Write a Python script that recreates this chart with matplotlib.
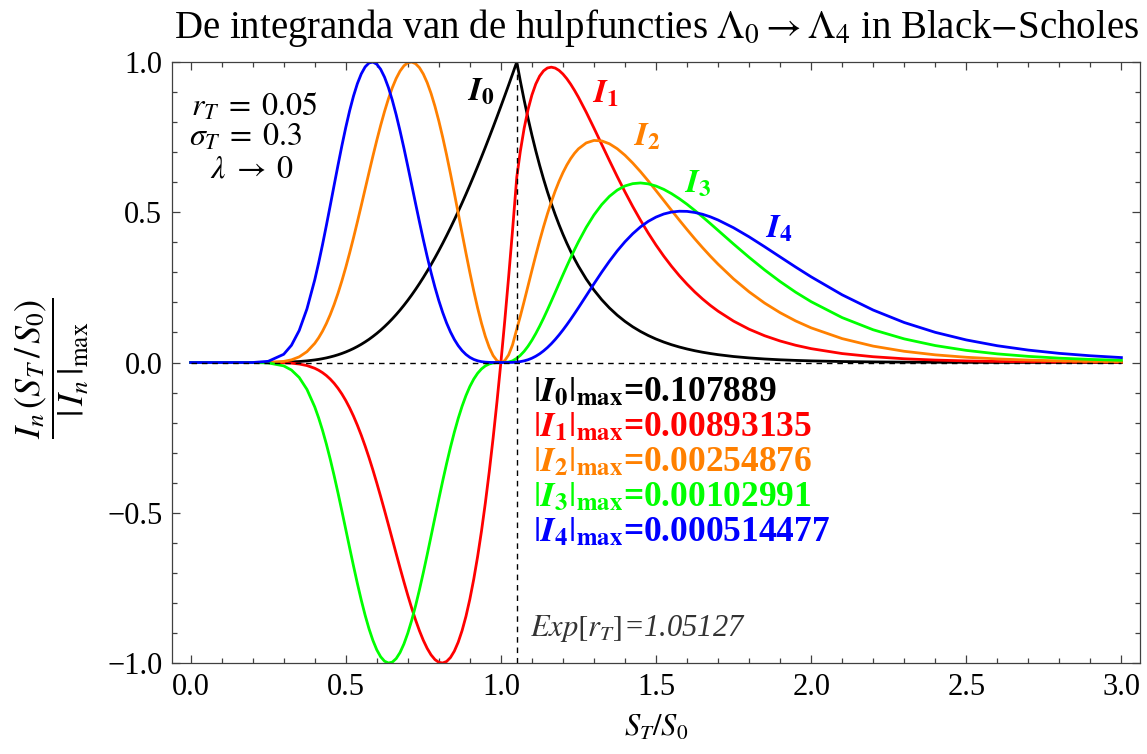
import numpy as np
import matplotlib
matplotlib.use("Agg")
import matplotlib.pyplot as plt
from matplotlib.ticker import MultipleLocator, FuncFormatter

plt.rcParams['font.family'] = ['Liberation Serif', 'DejaVu Serif']
plt.rcParams['mathtext.fontset'] = 'stix'

# S_T/S_0 grid (fijner rond de pieken)
x = [0.0, 0.1, 0.2, 0.25, 0.3, 0.325, 0.35, 0.375, 0.4,
     0.4125, 0.425, 0.4375, 0.45, 0.4625, 0.475, 0.4875, 0.5,
     0.5125, 0.525, 0.5375, 0.55, 0.5625, 0.575, 0.5875, 0.6,
     0.6125, 0.625, 0.6375, 0.65, 0.6625, 0.675, 0.6875, 0.7,
     0.7125, 0.725, 0.7375, 0.75, 0.7625, 0.775, 0.7875, 0.8,
     0.8125, 0.825, 0.8375, 0.85, 0.8625, 0.875, 0.8875, 0.9,
     0.9125, 0.925, 0.9375, 0.95, 0.9625, 0.975, 0.9875, 1.0,
     1.0125, 1.025, 1.0375, 1.05127, 1.0625, 1.075, 1.0875, 1.1,
     1.1125, 1.125, 1.1375, 1.15, 1.1625, 1.175, 1.1875, 1.2,
     1.2125, 1.225, 1.2375, 1.25, 1.275, 1.3, 1.325, 1.35,
     1.375, 1.4, 1.425, 1.45, 1.475, 1.5, 1.525, 1.55,
     1.575, 1.6, 1.625, 1.65, 1.675, 1.7, 1.75, 1.8,
     1.85, 1.9, 1.95, 2.0, 2.1, 2.2, 2.3, 2.4,
     2.5, 2.6, 2.7, 2.8, 2.9, 3.0]

# genormeerde integranda I_n / |I_n|max
I0 = [0.0, 0.0, 0.0, 0.0002, 0.0010, 0.0019, 0.0033, 0.0054, 0.0085,
      0.0104, 0.0127, 0.0153, 0.0184, 0.0218, 0.0257, 0.0301, 0.0350,
      0.0405, 0.0465, 0.0532, 0.0605, 0.0685, 0.0771, 0.0866, 0.0967,
      0.1076, 0.1194, 0.1319, 0.1452, 0.1594, 0.1744, 0.1903, 0.2070,
      0.2246, 0.2431, 0.2625, 0.2827, 0.3038, 0.3257, 0.3485, 0.3721,
      0.3966, 0.4219, 0.4480, 0.4749, 0.5026, 0.5311, 0.5602, 0.5901,
      0.6207, 0.6520, 0.6839, 0.7164, 0.7496, 0.7833, 0.8176, 0.8524,
      0.8877, 0.9234, 0.9596, 1.0, 0.9379, 0.8732, 0.8129, 0.7568,
      0.7045, 0.6558, 0.6105, 0.5683, 0.5290, 0.4924, 0.4584, 0.4267,
      0.3972, 0.3698, 0.3443, 0.3205, 0.2779, 0.2410, 0.2090, 0.1814,
      0.1575, 0.1368, 0.1188, 0.1033, 0.0898, 0.0781, 0.0680, 0.0592,
      0.0516, 0.0450, 0.0392, 0.0342, 0.0299, 0.0261, 0.0199, 0.0153,
      0.0117, 0.0090, 0.0070, 0.0054, 0.0032, 0.0020, 0.0012, 0.0007,
      0.0005, 0.0003, 0.0002, 0.0001, 0.0001, 0.0]
I1 = [0.0, 0.0, 0.0, 0.0, -0.0008, -0.0022, -0.0050, -0.0102, -0.0192,
      -0.0257, -0.0337, -0.0434, -0.0552, -0.0692, -0.0857, -0.1047, -0.1264,
      -0.1510, -0.1784, -0.2088, -0.2420, -0.2780, -0.3166, -0.3576, -0.4009,
      -0.4459, -0.4923, -0.5398, -0.5878, -0.6359, -0.6835, -0.7299, -0.7747,
      -0.8171, -0.8566, -0.8926, -0.9244, -0.9514, -0.9730, -0.9886, -0.9978,
      -1.0, -0.9949, -0.9818, -0.9605, -0.9307, -0.8921, -0.8445, -0.7876,
      -0.7214, -0.6460, -0.5612, -0.4670, -0.3637, -0.2513, -0.1300, 0.0,
      0.1383, 0.2847, 0.4387, 0.6170, 0.7016, 0.7793, 0.8415, 0.8901,
      0.9268, 0.9532, 0.9705, 0.9801, 0.9828, 0.9799, 0.9720, 0.9600,
      0.9445, 0.9261, 0.9053, 0.8827, 0.8331, 0.7802, 0.7259, 0.6718,
      0.6188, 0.5678, 0.5191, 0.4735, 0.4306, 0.3908, 0.3540, 0.3202,
      0.2891, 0.2608, 0.2348, 0.2114, 0.1901, 0.1709, 0.1377, 0.1108,
      0.0891, 0.0716, 0.0574, 0.0461, 0.0297, 0.0192, 0.0124, 0.0081,
      0.0053, 0.0034, 0.0023, 0.0015, 0.0010, 0.0007]
I2 = [0.0, 0.0, 0.0, 0.0004, 0.0037, 0.0088, 0.0188, 0.0361, 0.0636,
      0.0820, 0.1039, 0.1296, 0.1592, 0.1927, 0.2302, 0.2715, 0.3163,
      0.3643, 0.4150, 0.4679, 0.5222, 0.5774, 0.6325, 0.6867, 0.7392,
      0.7890, 0.8353, 0.8774, 0.9142, 0.9452, 0.9698, 0.9873, 0.9975,
      1.0, 0.9944, 0.9812, 0.9600, 0.9313, 0.8953, 0.8526, 0.8038,
      0.7496, 0.6910, 0.6285, 0.5635, 0.4970, 0.4300, 0.3638, 0.2996,
      0.2385, 0.1818, 0.1308, 0.0865, 0.0502, 0.0230, 0.0059, 0.0,
      0.0062, 0.0254, 0.0583, 0.1114, 0.1535, 0.2035, 0.2548, 0.3063,
      0.3567, 0.4053, 0.4514, 0.4945, 0.5342, 0.5705, 0.6030, 0.6319,
      0.6570, 0.6785, 0.6964, 0.7110, 0.7307, 0.7390, 0.7375, 0.7278,
      0.7114, 0.6897, 0.6638, 0.6351, 0.6042, 0.5720, 0.5393, 0.5065,
      0.4740, 0.4424, 0.4116, 0.3822, 0.3540, 0.3273, 0.2782, 0.2352,
      0.1978, 0.1658, 0.1384, 0.1153, 0.0795, 0.0545, 0.0373, 0.0255,
      0.0174, 0.0119, 0.0081, 0.0056, 0.0038, 0.0026]
I3 = [0.0, 0.0, 0.0, -0.0014, -0.0112, -0.0251, -0.0499, -0.0896, -0.1475,
      -0.1839, -0.2252, -0.2713, -0.3218, -0.3762, -0.4339, -0.4938, -0.5551,
      -0.6165, -0.6771, -0.7355, -0.7905, -0.8411, -0.8862, -0.9247, -0.9561,
      -0.9793, -0.9940, -1.0, -0.9971, -0.9853, -0.9651, -0.9367, -0.9007,
      -0.8582, -0.8098, -0.7564, -0.6993, -0.6394, -0.5778, -0.5157, -0.4541,
      -0.3941, -0.3366, -0.2822, -0.2319, -0.1861, -0.1454, -0.1100, -0.0799,
      -0.0553, -0.0359, -0.0214, -0.0112, -0.0049, -0.0015, -0.0002, 0.0,
      0.0002, 0.0016, 0.0054, 0.0141, 0.0236, 0.0372, 0.0541, 0.0739,
      0.0963, 0.1209, 0.1472, 0.1750, 0.2037, 0.2329, 0.2624, 0.2917,
      0.3205, 0.3486, 0.3758, 0.4017, 0.4495, 0.4909, 0.5254, 0.5530,
      0.5736, 0.5876, 0.5952, 0.5975, 0.5945, 0.5872, 0.5762, 0.5620,
      0.5452, 0.5265, 0.5059, 0.4847, 0.4624, 0.4397, 0.3942, 0.3501,
      0.3081, 0.2694, 0.2340, 0.2024, 0.1494, 0.1089, 0.0786, 0.0564,
      0.0403, 0.0287, 0.0204, 0.0145, 0.0103, 0.0074]
I4 = [0.0, 0.0, 0.0, 0.0039, 0.0273, 0.0573, 0.1065, 0.1786, 0.2747,
      0.3309, 0.3916, 0.4559, 0.5223, 0.5897, 0.6565, 0.7211, 0.7820,
      0.8377, 0.8867, 0.9281, 0.9605, 0.9837, 0.9968, 0.9998, 0.9926,
      0.9758, 0.9497, 0.9151, 0.8731, 0.8246, 0.7708, 0.7134, 0.6529,
      0.5913, 0.5292, 0.4682, 0.4088, 0.3524, 0.2993, 0.2504, 0.2059,
      0.1663, 0.1315, 0.1017, 0.0766, 0.0560, 0.0395, 0.0267, 0.0171,
      0.0103, 0.0057, 0.0028, 0.0012, 0.0004, 0.0001, 0.0, 0.0,
      0.0, 0.0001, 0.0004, 0.0014, 0.0029, 0.0055, 0.0092, 0.0143,
      0.0209, 0.0289, 0.0386, 0.0497, 0.0623, 0.0764, 0.0917, 0.1081,
      0.1255, 0.1438, 0.1628, 0.1822, 0.2220, 0.2618, 0.3006, 0.3373,
      0.3713, 0.4018, 0.4285, 0.4513, 0.4697, 0.4839, 0.4942, 0.5006,
      0.5034, 0.5029, 0.4993, 0.4933, 0.4848, 0.4742, 0.4484, 0.4182,
      0.3853, 0.3514, 0.3177, 0.2851, 0.2252, 0.1745, 0.1331, 0.1004,
      0.0751, 0.0558, 0.0413, 0.0304, 0.0224, 0.0164]

max_vals = ['0.107889', '0.00893135', '0.00254876', '0.00102991', '0.000514477']
colors = ['black', '#ff0000', '#ff8000', '#00ff00', '#0000ff']
exp_r = 1.05127

fig = plt.figure(figsize=(11.47, 7.54), dpi=100)
ax = fig.add_axes([0.14996, 0.12069, 0.84394, 0.79708])

for i, ys in enumerate([I0, I1, I2, I3, I4]):
    ax.plot(x, ys, color=colors[i], lw=2.0, zorder=2, solid_joinstyle='round')

ax.plot([0, 3], [0, 0], color='black', lw=1.0, ls=(0, (4, 3.5)), zorder=3)
ax.plot([exp_r, exp_r], [-1, 1], color='black', lw=1.0, ls=(0, (4, 3.5)), zorder=3)

ax.set_xlim(-0.06, 3.06)
ax.set_ylim(-1, 1)
ax.xaxis.set_major_locator(MultipleLocator(0.5))
ax.xaxis.set_minor_locator(MultipleLocator(0.1))
ax.yaxis.set_major_locator(MultipleLocator(0.5))
ax.yaxis.set_minor_locator(MultipleLocator(0.1))
fmt = FuncFormatter(lambda v, pos: ('%.1f' % v).replace('-', '\u2212'))
ax.xaxis.set_major_formatter(fmt)
ax.yaxis.set_major_formatter(fmt)
ax.tick_params(which='both', direction='in', top=True, right=True, color='0.25',
               labelsize=22, width=0.9)
ax.tick_params(which='major', length=6, pad=7)
ax.tick_params(which='minor', length=3.5)
for sp in ax.spines.values():
    sp.set_color('0.25')
    sp.set_linewidth(0.9)

# parameters
ax.text(0.0, 0.82, r'$r_T\;=\;0.05$', fontsize=23)
ax.text(-0.006, 0.72, r'$\sigma_T\;=\;0.3$', fontsize=23)
ax.text(0.064, 0.616, r'$\lambda\;\rightarrow\;0$', fontsize=23)

# curve names
lab_x = [0.937, 1.336, 1.471, 1.635, 1.896]
lab_y = [0.898, 0.892, 0.749, 0.592, 0.443]
for i in range(5):
    ax.text(lab_x[i], lab_y[i], r'$\mathbfit{I}_{\mathbf{%d}}$' % i, color=colors[i],
            fontsize=24, ha='center', va='center')

# maxima
for i in range(5):
    ax.text(1.104, -0.129 - 0.1165 * i,
            r'$|\mathbfit{I}_{\mathbf{%d}}|_{\mathbf{max}}$=%s' % (i, max_vals[i]),
            color=colors[i], fontsize=25.5, fontweight='bold')

ax.text(1.094, -0.911, r'$Exp[r_T]$=%s' % '1.05127', fontsize=22, style='italic',
        color='0.2')

fig.text(0.572, 0.963, r'De integranda van de hulpfuncties $\Lambda_0 \rightarrow \Lambda_4$ in Black$-$Scholes',
         fontsize=28, ha='center', va='center')
fig.text(0.572, 0.034, r'$S_T/S_0$', fontsize=22, ha='center', va='center')
fig.text(0.046, 0.512, r'$\dfrac{I_n\,(S_T\,/\,S_0)}{|\,I_n\,|_{\mathrm{max}}}$', fontsize=26,
         rotation=90, ha='center', va='center')

fig.savefig('out.png', dpi=100)
